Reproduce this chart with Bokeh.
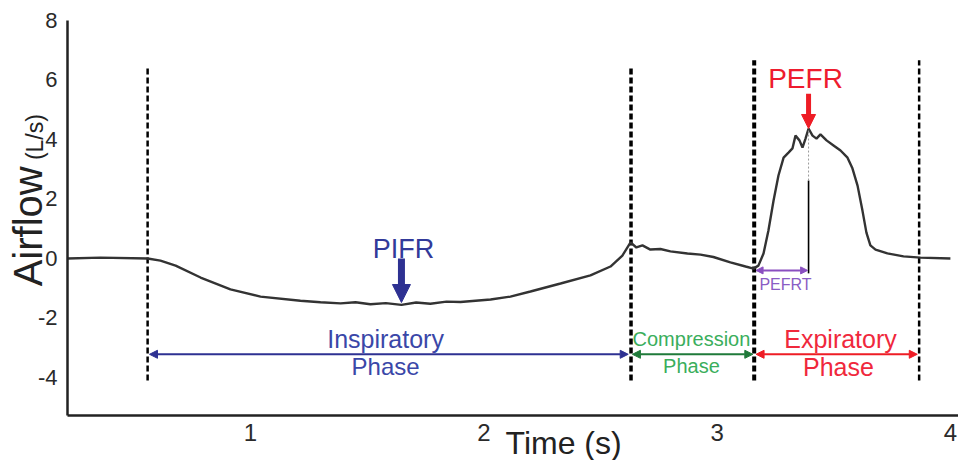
import math
from bokeh.plotting import figure
from bokeh.models import Range1d, Label, Arrow, NormalHead, FixedTicker
from bokeh.embed import file_html
from bokeh.resources import INLINE

# ---- data ----
time_s = [0.216, 0.357, 0.559, 0.614, 0.679, 0.786, 0.914, 1.043, 1.214, 1.300, 1.386,
          1.450, 1.514, 1.580, 1.647, 1.710, 1.771, 1.840, 1.900, 2.029, 2.114, 2.200,
          2.329, 2.457, 2.543, 2.594, 2.629, 2.654, 2.680, 2.714, 2.757, 2.800, 2.873,
          2.929, 2.984, 3.057, 3.122, 3.156, 3.177, 3.199, 3.220, 3.242, 3.263, 3.285,
          3.306, 3.323, 3.336, 3.353, 3.366, 3.379, 3.392, 3.409, 3.426, 3.443, 3.469,
          3.499, 3.529, 3.559, 3.580, 3.602, 3.623, 3.640, 3.657, 3.679, 3.730, 3.799,
          3.872, 4.000]
airflow = [0.00, 0.03, 0.00, -0.07, -0.24, -0.64, -1.04, -1.28, -1.42, -1.47, -1.51,
           -1.47, -1.54, -1.50, -1.56, -1.48, -1.52, -1.45, -1.46, -1.38, -1.28, -1.11,
           -0.84, -0.57, -0.27, 0.10, 0.54, 0.37, 0.44, 0.30, 0.32, 0.24, 0.17,
           0.13, 0.05, -0.13, -0.27, -0.34, -0.24, 0.17, 0.94, 1.95, 2.79, 3.39,
           3.56, 3.70, 4.13, 3.97, 3.73, 4.03, 4.37, 4.13, 4.03, 4.17, 3.97,
           3.80, 3.63, 3.39, 3.03, 2.45, 1.61, 0.87, 0.44, 0.30, 0.17, 0.07,
           0.03, 0.00]
phase_bounds = [0.559, 2.631, 3.159, 3.866]   # start insp, start compression, start exp, end exp
pifr_t, pifr_v = 1.647, -1.48
pefr_t, pefr_v = 3.392, 4.37
x_ticks = [1, 2, 3, 4]
y_ticks = [-4, -2, 0, 2, 4, 6, 8]
x_axis_span = (0.2156, 4.052)
y_axis_span = (-5.277, 8.0)

FONT = "Liberation Sans"

p = figure(width=958, height=460, output_backend="svg", toolbar_location=None,
           x_range=Range1d(-0.0716, 4.0347), y_range=Range1d(-6.790, 8.672),
           min_border=0, min_border_left=0, min_border_right=0,
           min_border_top=0, min_border_bottom=0)
p.outline_line_color = None
p.xgrid.visible = False
p.ygrid.visible = False
p.background_fill_color = "white"

# axes drawn inside the frame at the chart's origin corner
p.xaxis.fixed_location = y_axis_span[0]
p.yaxis.fixed_location = x_axis_span[0]
p.xaxis.bounds = x_axis_span
p.yaxis.bounds = y_axis_span
for ax in (p.xaxis[0], p.yaxis[0]):
    ax.axis_line_width = 2.5
    ax.axis_line_color = "#222222"
    ax.major_tick_line_color = None
    ax.minor_tick_line_color = None
    ax.major_label_text_font = FONT
    ax.major_label_text_color = "#2a2a2a"
p.xaxis.ticker = FixedTicker(ticks=x_ticks)
p.yaxis.ticker = FixedTicker(ticks=y_ticks)
p.yaxis.major_label_overrides = {t: str(t) for t in y_ticks}
p.xaxis.major_label_text_font_size = "24px"
p.yaxis.major_label_text_font_size = "22px"
p.xaxis.major_label_standoff = 3
p.yaxis.major_label_standoff = 4

# dashed phase boundaries
tops = [6.39, 6.39, 6.66, 6.66]
widths = [2.5, 3.5, 4.0, 2.5]
for xb, top, w in zip(phase_bounds, tops, widths):
    p.segment(x0=[xb], y0=[-4.1], x1=[xb], y1=[top], line_color="black",
              line_width=w, line_dash="6 3")

# airflow curve
p.line(time_s, airflow, line_color="#333333", line_width=2.4)

# PEFR vertical marker
p.segment(x0=[pefr_t], y0=[-0.50], x1=[pefr_t], y1=[2.62], line_color="black", line_width=1.6)
p.segment(x0=[pefr_t], y0=[2.62], x1=[pefr_t], y1=[pefr_v], line_color="#9a9a9a",
          line_width=1, line_dash="2 2")

# phase arrows
def dbl_arrow(x0, x1, y, color, w=2.0, size=8):
    p.add_layout(Arrow(x_start=x0, y_start=y, x_end=x1, y_end=y, line_color=color,
                       line_width=w,
                       start=NormalHead(size=size, fill_color=color, line_color=color, line_width=1),
                       end=NormalHead(size=size, fill_color=color, line_color=color, line_width=1)))

arrow_y = -3.22
dbl_arrow(phase_bounds[0] + 0.008, phase_bounds[1] - 0.012, arrow_y, "#2e3192")
dbl_arrow(phase_bounds[1] + 0.006, phase_bounds[2] - 0.006, arrow_y, "#1f7a3a")
dbl_arrow(phase_bounds[2] + 0.008, phase_bounds[3] - 0.008, arrow_y, "#ee1c25")
dbl_arrow(phase_bounds[2] + 0.008, pefr_t - 0.004, -0.40, "#8a4fc0", w=2.0, size=7)

# PIFR / PEFR pointers
p.add_layout(Arrow(x_start=pifr_t, y_start=0.0, x_end=pifr_t, y_end=pifr_v,
                   line_color="#2e3192", line_width=7,
                   end=NormalHead(size=18, fill_color="#2e3192", line_color="#2e3192", line_width=1)))
p.add_layout(Arrow(x_start=pefr_t, y_start=5.54, x_end=pefr_t, y_end=pefr_v,
                   line_color="#ee1c25", line_width=5,
                   end=NormalHead(size=14, fill_color="#ee1c25", line_color="#ee1c25", line_width=1)))

def lbl(x, y, text, size, color, angle=0.0):
    p.add_layout(Label(x=x, y=y, text=text, text_font=FONT, text_font_size=size,
                       text_color=color, text_align="center", text_baseline="middle",
                       angle=angle))

lbl(1.579, -2.70, "Inspiratory", "25px", "#3a47a8")
lbl(1.579, -3.64, "Phase", "24px", "#3a47a8")
lbl(2.890, -2.69, "Compression", "20px", "#3aae5c")
lbl(2.890, -3.63, "Phase", "20px", "#3aae5c")
lbl(3.529, -2.70, "Expiratory", "25px", "#f0283c")
lbl(3.520, -3.64, "Phase", "25px", "#f0283c")
lbl(pifr_t + 0.009, 0.32, "PIFR", "27px", "#323a9a")
lbl(pefr_t - 0.013, 6.04, "PEFR", "28px", "#ee1c2e")
lbl(3.293, -0.86, "PEFRT", "16px", "#8a5cc4")

# axis titles
lbl(2.342, -6.20, "Time (s)", "32px", "#222222")
lbl(0.046, 1.08, "Airflow", "40px", "#222222", angle=math.pi / 2)
lbl(0.078, 4.08, "(L/s)", "23px", "#222222", angle=math.pi / 2)

open("out.html", "w").write(file_html(p, INLINE))
